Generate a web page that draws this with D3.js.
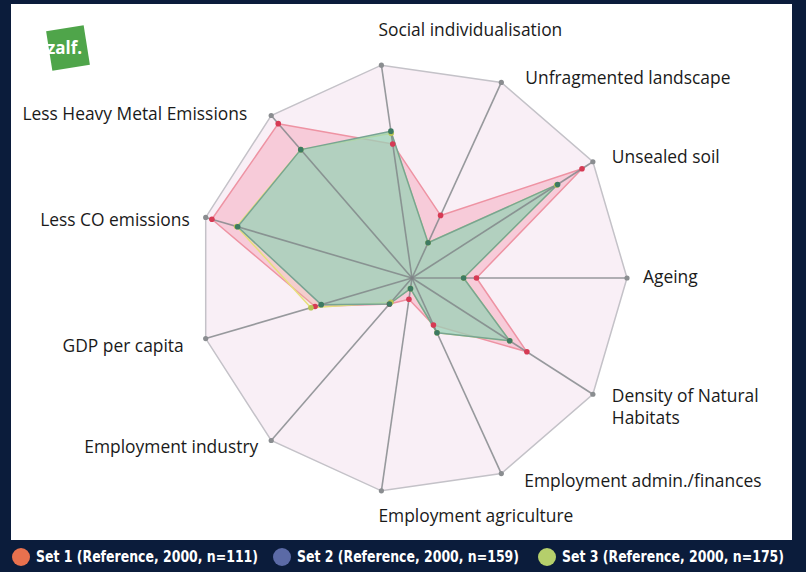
<!DOCTYPE html>
<html>
<head>
<meta charset="utf-8">
<script src="https://cdn.jsdelivr.net/npm/d3@7"></script>
<style>
  body { margin: 0; background: #0b1c3b; }
  svg { display: block; }
  .label { font-family: "Open Sans", "Noto Sans", sans-serif; font-size: 17.4px; fill: #1a1a1a; }
  .legend { font-family: "DejaVu Sans Condensed", "Liberation Sans Narrow", sans-serif; font-weight: bold; font-size: 15px; fill: #fff; }
</style>
</head>
<body>
<div id="chart"></div>
<script>
// radar of the three reference sets

// axes, counter-clockwise starting at the right
let axes = [
  "Ageing",
  "Unsealed soil",
  "Unfragmented landscape",
  "Social individualisation",
  "Less Heavy Metal Emissions",
  "Less CO emissions",
  "GDP per capita",
  "Employment industry",
  "Employment agriculture",
  "Employment admin./finances",
  "Density of Natural Habitats"
];

// values as share of the full axis
let set1 = [0.30, 0.94, 0.32, 0.63, 0.95, 0.97, 0.47, 0.16, 0.10, 0.24, 0.635];
let set2 = [0.24, 0.805, 0.18, 0.69, 0.79, 0.845, 0.44, 0.16, 0.05, 0.28, 0.54];
let set3 = [0.24, 0.80, 0.18, 0.68, 0.79, 0.85, 0.49, 0.15, 0.05, 0.28, 0.54];

let legendNames = [
  "Set 1 (Reference, 2000, n=111)",
  "Set 2 (Reference, 2000, n=159)",
  "Set 3 (Reference, 2000, n=175)"
];

// label nudges from each axis end (dx, dy)
let labelNudge = [
  [16, -1], [19, -5], [24, -5], [-3, -35], [-24, -2], [-16, 2],
  [-22, 7], [-13, 6], [-3, 25], [23, 7], [19, 2]
];

let W = 806, H = 572;
let cx = 412, cy = 278, R = 215;

let svg = d3.select("#chart").append("svg")
  .attr("width", W)
  .attr("height", H);

// white panel
svg.append("rect")
  .attr("x", 11).attr("y", 4)
  .attr("width", 781).attr("height", 536)
  .attr("fill", "#fff");

// logo
let logo = svg.append("g").attr("transform", "translate(68,48) rotate(-9)");
logo.append("rect")
  .attr("x", -19).attr("y", -20)
  .attr("width", 38).attr("height", 40)
  .attr("fill", "#4fa54a");
svg.append("text")
  .attr("x", 47).attr("y", 54)
  .attr("font-family", "Open Sans, sans-serif")
  .attr("font-weight", "bold")
  .attr("font-size", 17)
  .attr("fill", "#fff")
  .text("zalf.");

let r = d3.scaleLinear().domain([0, 1]).range([0, R]);
let angle = d3.scaleLinear()
  .domain([0, axes.length])
  .range([Math.PI / 2, Math.PI / 2 - 2 * Math.PI]);

function pt(i, v) {
  let a = angle(i);
  return [r(v) * Math.sin(a), -r(v) * Math.cos(a)];
}

let g = svg.append("g").attr("transform", "translate(" + cx + "," + cy + ")");

let radial = d3.lineRadial()
  .angle(function(d, i) { return angle(i); })
  .radius(function(d) { return r(d); })
  .curve(d3.curveLinearClosed);

// background polygon
g.append("path")
  .attr("d", radial(axes.map(function() { return 1; })))
  .attr("fill", "#f9eff6")
  .attr("stroke", "#c4c2c8")
  .attr("stroke-width", 1.5);

let series = [
  { vals: set1, fill: "rgba(244,160,182,0.45)", stroke: "#ee93a3", dot: "#d63a54" },
  { vals: set3, fill: "rgba(225,225,140,0.15)", stroke: "#e6e07c", dot: "#b8c455" },
  { vals: set2, fill: "rgba(150,210,185,0.7)", stroke: "#78a493", dot: "#3d7a62" }
];

series.forEach(function(s) {
  g.append("path")
    .attr("d", radial(s.vals))
    .attr("fill", s.fill)
    .attr("stroke", s.stroke)
    .attr("stroke-width", 1.5)
    .attr("stroke-linejoin", "round");
});

// spokes on top
axes.forEach(function(name, i) {
  let p = pt(i, 1);
  g.append("line")
    .attr("x1", 0).attr("y1", 0)
    .attr("x2", p[0]).attr("y2", p[1])
    .attr("stroke", "#7f8487")
    .attr("stroke-width", 1.6)
    .attr("opacity", 0.8);
  g.append("circle")
    .attr("cx", p[0]).attr("cy", p[1])
    .attr("r", 2.6)
    .attr("fill", "#8a8d90");
});

series.forEach(function(s) {
  s.vals.forEach(function(v, i) {
    let p = pt(i, v);
    g.append("circle")
      .attr("cx", p[0]).attr("cy", p[1])
      .attr("r", 2.8)
      .attr("fill", s.dot);
  });
});

// axis labels (the long one is split over two lines)
axes.forEach(function(name, i) {
  let p = pt(i, 1);
  let left = Math.cos(angle(i) - Math.PI / 2) < -0.3;
  let lines = name === "Density of Natural Habitats"
    ? ["Density of Natural", "Habitats"] : [name];
  lines.forEach(function(line, k) {
    g.append("text")
      .attr("class", "label")
      .attr("x", p[0] + labelNudge[i][0])
      .attr("y", p[1] + labelNudge[i][1] + k * 22)
      .attr("dy", "0.35em")
      .attr("text-anchor", left ? "end" : "start")
      .text(line);
  });
});

// legend
let legendColors = ["#e8714e", "#5b6aa6", "#b5cf6b"];
let legendX = d3.scaleLinear().domain([0, 1]).range([21, 282]);
legendNames.forEach(function(name, i) {
  let x = i == 2 ? 547 : legendX(i);
  svg.append("circle")
    .attr("cx", x).attr("cy", 557)
    .attr("r", 9)
    .attr("fill", legendColors[i]);
  svg.append("text")
    .attr("class", "legend")
    .attr("x", x + 15)
    .attr("y", 557)
    .attr("dy", "0.36em")
    .attr("textLength", 222)
    .attr("lengthAdjust", "spacingAndGlyphs")
    .text(name);
});
</script>
</body>
</html>
